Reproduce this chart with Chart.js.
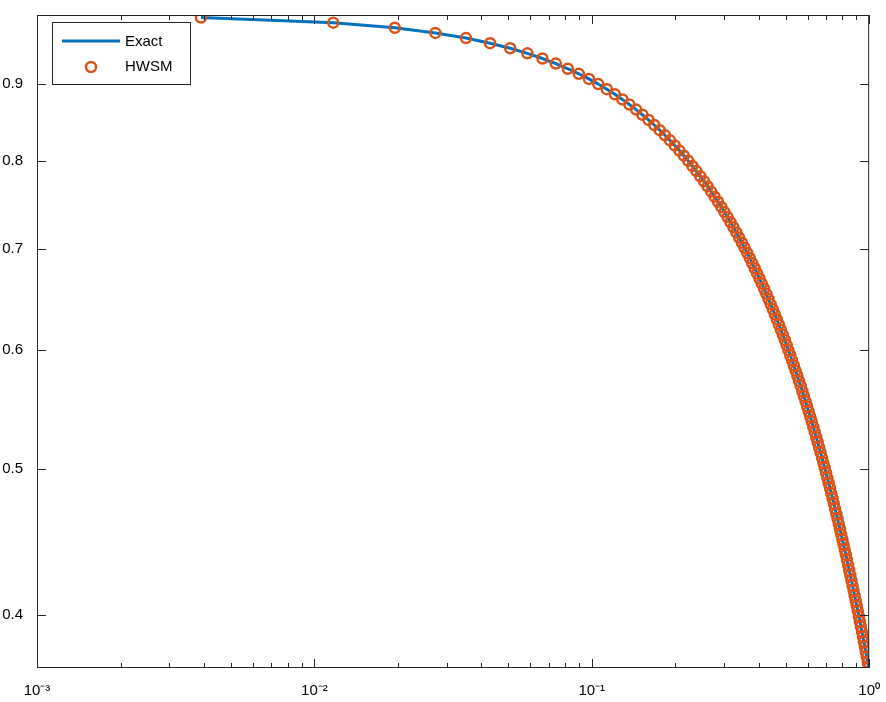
<!DOCTYPE html>
<html><head><meta charset="utf-8">
<script src="https://cdn.jsdelivr.net/npm/chart.js@4"></script>
<style>html,body{margin:0;padding:0;background:#fff}#w{width:886px;height:702px}</style>
</head><body><div id="w"><canvas id="c"></canvas></div>
<script>
const xValues=[.0039,.0117,.0195,.0273,.0352,.0430,.0508,.0586,.0664,.0742,.0820,.0898,.0977,.1055,.1133,.1211,.1289,.1367,.1445,.1523,.1602,.1680,.1758,.1836,.1914,.1992,.2070,.2148,.2227,.2305,.2383,.2461,.2539,.2617,.2695,.2773,.2852,.2930,.3008,.3086,.3164,.3242,.3320,.3398,.3477,.3555,.3633,.3711,.3789,.3867,.3945,.4023,.4102,.4180,.4258,.4336,.4414,.4492,.4570,.4648,.4727,.4805,.4883,.4961,.5039,.5117,.5195,.5273,.5352,.5430,.5508,.5586,.5664,.5742,.5820,.5898,.5977,.6055,.6133,.6211,.6289,.6367,.6445,.6523,.6602,.6680,.6758,.6836,.6914,.6992,.7070,.7148,.7227,.7305,.7383,.7461,.7539,.7617,.7695,.7773,.7852,.7930,.8008,.8086,.8164,.8242,.8320,.8398,.8477,.8555,.8633,.8711,.8789,.8867,.8945,.9023,.9102,.9180,.9258,.9336,.9414,.9492,.9570,.9648,.9727,.9805,.9883,.9961];
const exactValues=[.9961,.9884,.9807,.9730,.9654,.9579,.9505,.9431,.9357,.9285,.9212,.9141,.9070,.8999,.8929,.8860,.8791,.8722,.8655,.8587,.8520,.8454,.8388,.8323,.8258,.8194,.8130,.8067,.8004,.7941,.7880,.7818,.7757,.7697,.7637,.7578,.7519,.7460,.7402,.7345,.7288,.7231,.7175,.7119,.7064,.7009,.6954,.6900,.6846,.6793,.6740,.6688,.6636,.6584,.6533,.6482,.6432,.6382,.6332,.6283,.6234,.6185,.6137,.6089,.6042,.5995,.5948,.5902,.5856,.5810,.5765,.5720,.5676,.5631,.5588,.5544,.5501,.5458,.5416,.5374,.5332,.5290,.5249,.5209,.5168,.5128,.5088,.5048,.5009,.4970,.4931,.4893,.4855,.4817,.4780,.4742,.4706,.4669,.4633,.4597,.4561,.4525,.4490,.4455,.4420,.4386,.4352,.4318,.4284,.4251,.4218,.4185,.4153,.4120,.4088,.4057,.4025,.3994,.3962,.3932,.3901,.3871,.3841,.3811,.3781,.3752,.3723,.3694];
const hwsmValues=exactValues.slice();
const yTicks=[0.4,0.5,0.6,0.7,0.8,0.9];
const xTicks=[0.001,0.01,0.1,1];
const xTickLabels=['10\u207B\u00B3','10\u207B\u00B2','10\u207B\u00B9','10\u2070'];
const seriesNames=['Exact','HWSM'];
const FONT='"Liberation Sans", Arial, sans-serif';
const frame={id:'frame',afterDatasetsDraw(ch){
  const c=ch.ctx,a=ch.chartArea,xs=ch.scales.x,ys=ch.scales.y;
  c.save();c.strokeStyle='#262626';c.lineWidth=1;
  c.strokeRect(a.left+.5,a.top+.5,a.right-a.left-1,a.bottom-a.top-1);
  c.beginPath();
  for(let d=0.001;d<1.5;d*=10){for(let m=1;m<10;m++){const v=d*m;if(v>1.0001)break;
    const px=Math.round(xs.getPixelForValue(v))+.5;const L=m===1?9:5;
    c.moveTo(px,a.bottom);c.lineTo(px,a.bottom-L);c.moveTo(px,a.top);c.lineTo(px,a.top+L);}}
  yTicks.forEach(v=>{const py=Math.round(ys.getPixelForValue(v))+.5;
    c.moveTo(a.left,py);c.lineTo(a.left+9,py);c.moveTo(a.right,py);c.lineTo(a.right-9,py);});
  c.stroke();
  // legend
  const lx=52,ly=22,lw=138,lh=62;
  c.fillStyle='#fff';c.fillRect(lx,ly,lw,lh);c.strokeRect(lx+.5,ly+.5,lw,lh);
  c.strokeStyle='#0072BD';c.lineWidth=3;c.beginPath();c.moveTo(62,41);c.lineTo(120,41);c.stroke();
  c.strokeStyle='#D95319';c.lineWidth=2.5;c.beginPath();c.arc(91,67,5,0,2*Math.PI);c.stroke();
  c.fillStyle='#000';c.font='15px '+FONT;c.textBaseline='middle';
  c.fillText(seriesNames[0],125,42);c.fillText(seriesNames[1],125,67);
  c.restore();}};
new Chart(document.getElementById('c'),{type:'scatter',
 data:{datasets:[
  {label:seriesNames[1],data:xValues.map((x,i)=>({x,y:hwsmValues[i]})),showLine:false,pointStyle:'circle',pointRadius:5,pointBorderWidth:2.5,pointBorderColor:'#D95319',pointBackgroundColor:'rgba(0,0,0,0)'},
  {label:seriesNames[0],data:xValues.map((x,i)=>({x,y:exactValues[i]})),showLine:true,borderColor:'#0072BD',borderWidth:3,pointRadius:0}
 ]},
 options:{responsive:true,maintainAspectRatio:false,animation:false,
  layout:{padding:{left:0,right:16,top:2,bottom:0}},
  plugins:{legend:{display:false},tooltip:{enabled:false}},
  scales:{
   x:{type:'logarithmic',min:0.001,max:1,grid:{display:false},border:{display:false},
    afterBuildTicks:s=>{s.ticks=xTicks.map(v=>({value:v}));},
    afterFit:s=>{s.height=34;},
    ticks:{color:'#000',font:{family:FONT,size:15},maxRotation:0,padding:6,callback:(v)=>xTickLabels[xTicks.findIndex(t=>Math.abs(t-v)<v*1e-6)]}},
   y:{type:'logarithmic',min:0.369,max:1.0,grid:{display:false},border:{display:false},
    afterBuildTicks:s=>{s.ticks=yTicks.map(v=>({value:v}));},
    afterFit:s=>{s.width=37;},
    ticks:{color:'#000',font:{family:FONT,size:15},padding:6,callback:v=>v.toFixed(1)}}
  }},
 plugins:[frame]});
</script></body></html>
